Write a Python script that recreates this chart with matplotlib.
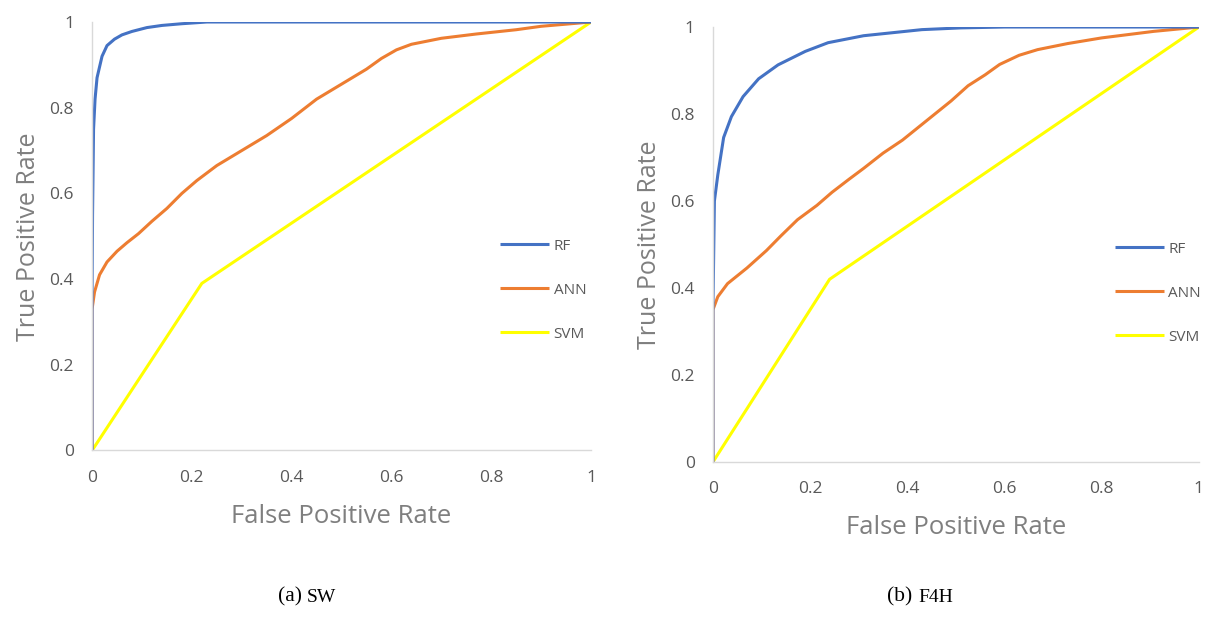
import matplotlib.pyplot as plt
from matplotlib.offsetbox import AnnotationBbox, HPacker, TextArea

# ---- data ----
labels = ["RF", "ANN", "SVM"]
colors = ["#4472C4", "#ED7D31", "#FFFF00"]

# (a) SW
sw_rf_x = [0, 0, 0.001, 0.003, 0.006, 0.01, 0.02, 0.03, 0.045, 0.06, 0.08, 0.11, 0.14, 0.18, 0.23, 1.0]
sw_rf_y = [0, 0.35, 0.55, 0.75, 0.82, 0.87, 0.92, 0.945, 0.96, 0.97, 0.978, 0.987, 0.992, 0.996, 1.0, 1.0]
sw_ann_x = [0, 0, 0.005, 0.015, 0.03, 0.05, 0.07, 0.093, 0.12, 0.15, 0.18, 0.21, 0.25, 0.3, 0.35, 0.4,
            0.45, 0.5, 0.55, 0.58, 0.61, 0.64, 0.7, 0.77, 0.85, 0.9, 0.95, 1.0]
sw_ann_y = [0, 0.33, 0.37, 0.41, 0.44, 0.465, 0.485, 0.506, 0.535, 0.565, 0.6, 0.63, 0.665, 0.70, 0.735,
            0.775, 0.82, 0.855, 0.89, 0.915, 0.935, 0.948, 0.962, 0.972, 0.982, 0.99, 0.995, 1.0]
sw_svm_x = [0, 0.22, 1.0]
sw_svm_y = [0, 0.39, 1.0]

# (b) F4H
f4h_rf_x = [0, 0, 0.003, 0.01, 0.022, 0.038, 0.062, 0.094, 0.134, 0.19, 0.237, 0.31, 0.43, 0.51, 0.6, 1.0]
f4h_rf_y = [0, 0.35, 0.6, 0.66, 0.746, 0.794, 0.84, 0.881, 0.913, 0.944, 0.964, 0.98, 0.994, 0.998, 1.0, 1.0]
f4h_ann_x = [0, 0, 0.01, 0.03, 0.07, 0.11, 0.14, 0.174, 0.214, 0.245, 0.28, 0.31, 0.35, 0.39, 0.44, 0.49,
             0.525, 0.56, 0.59, 0.63, 0.668, 0.73, 0.8, 0.907, 1.0]
f4h_ann_y = [0, 0.35, 0.38, 0.41, 0.446, 0.486, 0.52, 0.557, 0.59, 0.62, 0.65, 0.675, 0.71, 0.74, 0.785, 0.83,
             0.865, 0.89, 0.914, 0.935, 0.948, 0.962, 0.975, 0.99, 1.0]
f4h_svm_x = [0, 0.24, 1.0]
f4h_svm_y = [0, 0.42, 1.0]

caption_tags = ["(a)", "(b)"]
caption_names = ["SW", "F4H"]

plt.rcParams["font.family"] = ["Open Sans", "DejaVu Sans"]

fig = plt.figure(figsize=(12.29, 6.27), dpi=100)
ax_a = fig.add_axes([0.0749, 0.2815, 0.406, 0.6834])
ax_b = fig.add_axes([0.5801, 0.2632, 0.3954, 0.6937])

panels = [
    (ax_a, [(sw_rf_x, sw_rf_y), (sw_ann_x, sw_ann_y), (sw_svm_x, sw_svm_y)], (0.818, 0.374)),
    (ax_b, [(f4h_rf_x, f4h_rf_y), (f4h_ann_x, f4h_ann_y), (f4h_svm_x, f4h_svm_y)], (0.827, 0.388)),
]

ticks = [0, 0.2, 0.4, 0.6, 0.8, 1]
tick_text = ["0", "0.2", "0.4", "0.6", "0.8", "1"]

for ax, series, leg_pos in panels:
    # svm drawn first so the other curves sit on top
    for (x, y), lab, col in reversed(list(zip(series, labels, colors))):
        ax.plot(x, y, color=col, linewidth=2.2, label=lab, solid_capstyle="butt")
    ax.set_xlim(0, 1)
    ax.set_ylim(0, 1)
    ax.set_xticks(ticks)
    ax.set_xticklabels(tick_text)
    ax.set_yticks(ticks)
    ax.set_yticklabels(tick_text)
    ax.tick_params(length=0, labelsize=12.5, labelcolor="#595959")
    ax.tick_params(axis="x", pad=14)
    ax.tick_params(axis="y", pad=13)
    for s in ["top", "right"]:
        ax.spines[s].set_visible(False)
    for s in ["left", "bottom"]:
        ax.spines[s].set_color("#d9d9d9")
        ax.spines[s].set_linewidth(1.0)
    ax.set_xlabel("False Positive Rate", fontsize=18.5, color="#7f7f7f", labelpad=13)
    ax.set_ylabel("True Positive Rate", fontsize=18, color="#7f7f7f", labelpad=6)

    handles, labs = ax.get_legend_handles_labels()
    order = [labs.index(l) for l in labels]
    ax.legend([handles[i] for i in order], [labs[i] for i in order],
              loc="center left", bbox_to_anchor=leg_pos, frameon=False,
              fontsize=11, labelcolor="#595959", handlelength=3.2,
              handletextpad=0.3, labelspacing=1.9, borderpad=0, borderaxespad=0)

# captions: tag in normal serif, name in smaller caps
serif = ["Liberation Serif", "DejaVu Serif"]
for tag, name, cx in zip(caption_tags, caption_names, [307, 920]):
    box = HPacker(children=[TextArea(tag, textprops=dict(family=serif, fontsize=15.5)),
                            TextArea(name, textprops=dict(family=serif, fontsize=14))],
                  align="baseline", pad=0, sep=4)
    ab = AnnotationBbox(box, (cx / 1229, 1 - 597 / 627), xycoords="figure fraction",
                        frameon=False, box_alignment=(0.5, 0.5))
    fig.add_artist(ab)

fig.savefig("out.png", dpi=100, facecolor="white")
